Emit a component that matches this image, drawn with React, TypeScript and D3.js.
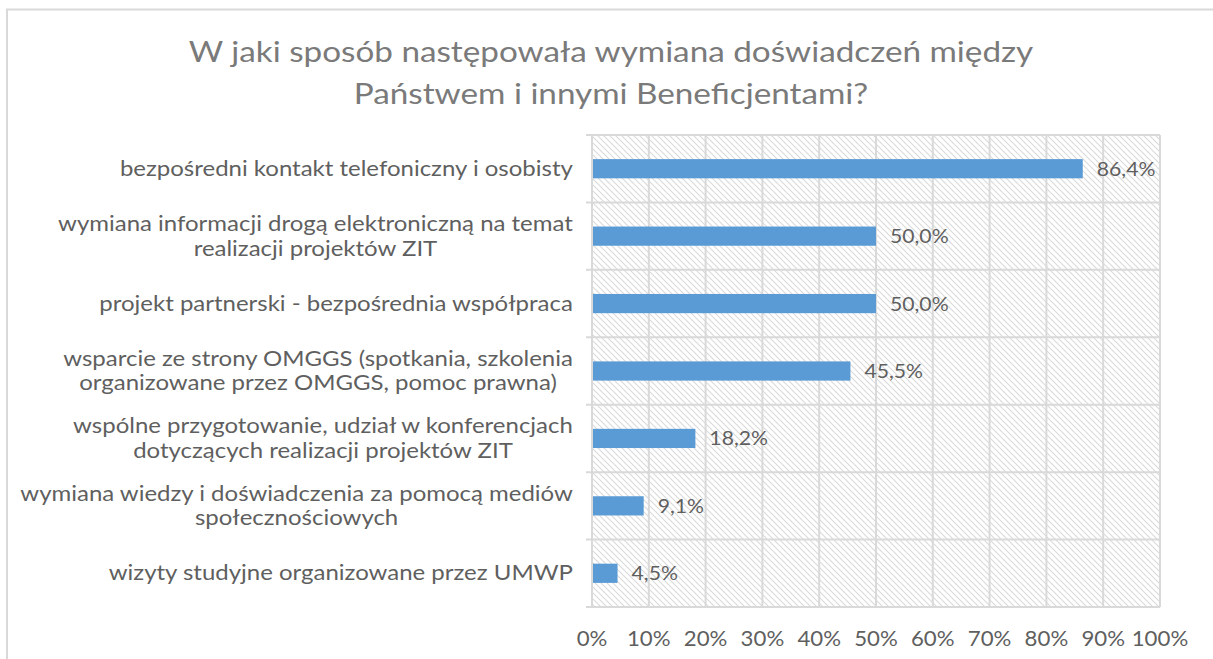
import React, { useEffect, useRef } from 'react';
import * as d3 from 'd3';

const titleLines = [
  'W jaki sposób następowała wymiana doświadczeń między',
  'Państwem i innymi Beneficjentami?',
];

const categories = [
  ['bezpośredni kontakt telefoniczny i osobisty'],
  ['wymiana informacji drogą elektroniczną na temat', 'realizacji projektów ZIT'],
  ['projekt partnerski - bezpośrednia współpraca'],
  ['wsparcie ze strony OMGGS (spotkania, szkolenia', 'organizowane przez OMGGS, pomoc prawna)'],
  ['wspólne przygotowanie, udział w konferencjach', 'dotyczących realizacji projektów ZIT'],
  ['wymiana wiedzy i doświadczenia za pomocą mediów', 'społecznościowych'],
  ['wizyty studyjne organizowane przez UMWP'],
];

const values = [86.4, 50.0, 50.0, 45.5, 18.2, 9.1, 4.5];

const ticks = [0, 10, 20, 30, 40, 50, 60, 70, 80, 90, 100];

function App() {
  const chartRef = useRef<SVGSVGElement>(null);

  useEffect(() => {
    const svg = d3.select(chartRef.current);
    svg.selectAll('*').remove();

    const width = 1213, height = 659;
    const margin = { top: 135, right: 53, bottom: 52, left: 592 };
    const font = 'Lato, "Noto Sans", sans-serif';
    const textColor = '#5f5f5f';
    const gridColor = '#d9d9d9';

    // the source image is a bit wider than tall, so text is stretched sideways
    const stretch = (sel: any, sx: number, ax: number | null = null) =>
      sel.attr('transform', function (this: SVGTextElement) {
        const a = ax !== null ? ax : +(this.getAttribute('x') || 0);
        return `translate(${a},0) scale(${sx},1) translate(${-a},0)`;
      });

    // hatch pattern for plot background
    const defs = svg.append('defs');
    const pat = defs.append('pattern')
      .attr('id', 'hatch')
      .attr('patternUnits', 'userSpaceOnUse')
      .attr('width', 6)
      .attr('height', 6);
    pat.append('rect').attr('width', 6).attr('height', 6).attr('fill', '#fff');
    pat.append('path')
      .attr('d', 'M0,0 L6,6 M-3,3 L3,9 M3,-3 L9,3')
      .attr('stroke', '#dadada')
      .attr('stroke-width', 1.1);

    // outer chart border
    svg.append('rect')
      .attr('x', 7)
      .attr('y', 9.5)
      .attr('width', width + 20)
      .attr('height', height + 20)
      .attr('fill', '#fff')
      .attr('stroke', '#d9d9d9')
      .attr('stroke-width', 2);

    // title
    const title = svg.append('g')
      .selectAll('text')
      .data(titleLines)
      .join('text')
      .attr('x', 611)
      .attr('y', (d, i) => 62 + i * 42)
      .attr('text-anchor', 'middle')
      .attr('font-family', font)
      .attr('font-size', 29)
      .attr('fill', '#7a7a7a')
      .text(d => d);
    stretch(title, 1.147);

    const x = d3.scaleLinear()
      .domain([0, 100])
      .range([margin.left, width - margin.right]);

    const y = d3.scaleBand<number>()
      .domain(d3.range(categories.length))
      .range([margin.top, height - margin.bottom])
      .paddingInner(0.715)
      .paddingOuter(0.3575);

    const yFull = d3.scaleBand<number>()
      .domain(d3.range(categories.length))
      .range([margin.top, height - margin.bottom]);

    // plot background
    svg.append('rect')
      .attr('x', x(0))
      .attr('y', margin.top)
      .attr('width', x(100) - x(0))
      .attr('height', height - margin.bottom - margin.top)
      .attr('fill', 'url(#hatch)');

    // vertical gridlines
    svg.append('g')
      .selectAll('line')
      .data(ticks)
      .join('line')
      .attr('x1', d => x(d))
      .attr('x2', d => x(d))
      .attr('y1', margin.top)
      .attr('y2', height - margin.bottom)
      .attr('stroke', gridColor)
      .attr('stroke-width', 2);

    // horizontal category separators with ticks
    const seps = d3.range(categories.length + 1).map(i =>
      i < categories.length ? yFull(i)! : yFull(categories.length - 1)! + yFull.bandwidth());
    svg.append('g')
      .selectAll('line')
      .data(seps)
      .join('line')
      .attr('x1', x(0) - 6)
      .attr('x2', x(100))
      .attr('y1', d => d)
      .attr('y2', d => d)
      .attr('stroke', gridColor)
      .attr('stroke-width', 2);

    // bars
    svg.append('g')
      .selectAll('rect')
      .data(values)
      .join('rect')
      .attr('x', x(0) + 1)
      .attr('y', (d, i) => y(i)!)
      .attr('width', d => x(d) - x(0) - 1)
      .attr('height', y.bandwidth())
      .attr('fill', '#5b9bd5');

    // value labels
    const vals = svg.append('g')
      .selectAll('text')
      .data(values)
      .join('text')
      .attr('x', d => x(d) + 14)
      .attr('y', (d, i) => y(i)! + y.bandwidth() / 2)
      .attr('dy', '0.35em')
      .attr('font-family', font)
      .attr('font-size', 20)
      .attr('fill', textColor)
      .text(d => d.toFixed(1).replace('.', ',') + '%');
    stretch(vals, 1.06);

    // category labels: block right-aligned, lines centred inside it
    const labelRight = 573;
    const catG = svg.append('g');
    categories.forEach((lines, i) => {
      const cy = yFull(i)! + yFull.bandwidth() / 2;
      const lh = 24.5;
      const t = catG.append('text')
        .attr('text-anchor', 'middle')
        .attr('font-family', font)
        .attr('font-size', 20.5)
        .attr('fill', textColor);
      const spans = lines.map((line, j) =>
        t.append('tspan')
          .attr('y', cy + (j - (lines.length - 1) / 2) * lh)
          .attr('dy', '0.35em')
          .text(line));
      const w = d3.max(spans, s => (s.node() as SVGTSpanElement).getComputedTextLength()) || 0;
      const cx = labelRight - w / 2;
      spans.forEach(s => s.attr('x', cx));
      stretch(t, 1.17, labelRight);
    });

    // x axis labels
    const tl = svg.append('g')
      .selectAll('text')
      .data(ticks)
      .join('text')
      .attr('x', d => x(d))
      .attr('y', 639)
      .attr('dy', '0.35em')
      .attr('text-anchor', 'middle')
      .attr('font-family', font)
      .attr('font-size', 21)
      .attr('fill', textColor)
      .text(d => d + '%');
    stretch(tl, 1.06);
  }, []);

  return (
    <svg
      ref={chartRef}
      width="1213"
      height="659"
      style={{ position: 'absolute', left: 0, top: 0, background: '#fff' }}
    ></svg>
  );
}

export default App;
